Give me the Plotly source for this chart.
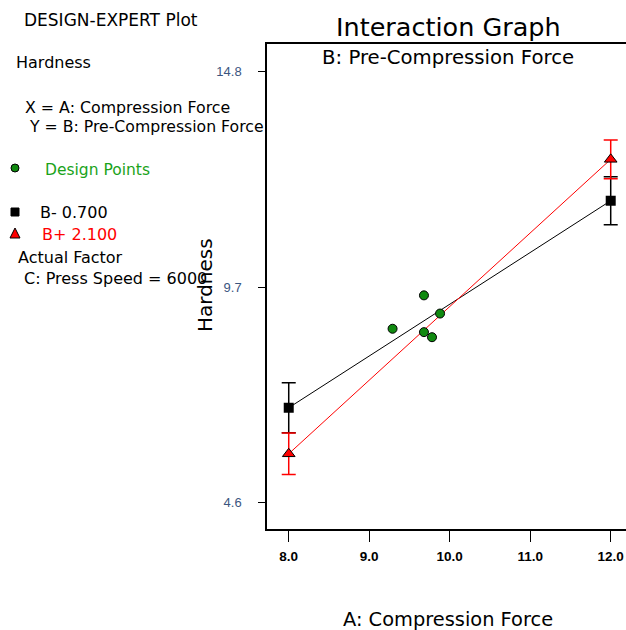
"""
Interaction Graph (Design-Expert style): Hardness vs Compression Force
"""
import plotly.graph_objects as go

# dados
compression_levels = [8.0, 12.0]
hardness_b_low = [6.85, 11.75]      # B- 0.700
err_b_low = [0.59, 0.57]
hardness_b_high = [5.76, 12.73]     # B+ 2.100
err_b_high = [0.49, 0.46]

design_x = [9.29, 9.68, 9.68, 9.78, 9.88]
design_y = [8.72, 9.51, 8.64, 8.52, 9.08]

x_ticks = [8.0, 9.0, 10.0, 11.0, 12.0]
y_ticks = [4.6, 9.7, 14.8]

FONT = "DejaVu Sans"
W, H = 626, 630
L, R, T, B = 267, 626, 44, 529


def px(x):
    return (x - L) / (R - L)


def py(y):
    return (B - y) / (B - T)


fig = go.Figure()

# linha B-
fig.add_trace(go.Scatter(
    x=compression_levels, y=hardness_b_low, mode='lines+markers',
    line=dict(color='black', width=1),
    marker=dict(symbol='square', size=10, color='black'),
    error_y=dict(type='data', array=err_b_low, color='black', thickness=1.5, width=7),
    showlegend=False
))

# linha B+
fig.add_trace(go.Scatter(
    x=compression_levels, y=hardness_b_high, mode='lines+markers',
    line=dict(color='#ff0000', width=1),
    marker=dict(symbol='triangle-up', size=11, color='#ff0000',
                line=dict(color='black', width=1)),
    error_y=dict(type='data', array=err_b_high, color='#ff0000', thickness=1.5, width=7),
    showlegend=False
))

# pontos do planejamento
fig.add_trace(go.Scatter(
    x=design_x, y=design_y, mode='markers',
    marker=dict(symbol='circle', size=9, color='#108a10',
                line=dict(color='black', width=1)),
    showlegend=False
))

# textos à esquerda
side_texts = [
    ("DESIGN-EXPERT Plot", 22, 20, 'black', 17),
    ("Hardness", 14, 63, 'black', 16),
    ("X = A: Compression Force", 23, 107, 'black', 15.8),
    ("Y = B: Pre-Compression Force", 27, 127, 'black', 15.7),
    ("Design Points", 43, 170, '#1aa31a', 15.5),
    ("B- 0.700", 38, 212, 'black', 16),
    ("B+ 2.100", 40, 234, '#ff0000', 16),
    ("Actual Factor", 16, 257, 'black', 16),
    ("C: Press Speed = 6000", 22, 278, 'black', 16),
]
annotations = []
for text, x0, y0, color, size in side_texts:
    annotations.append(dict(
        text=text, x=px(x0), y=py(y0), xref='paper', yref='paper',
        xanchor='left', yanchor='middle', showarrow=False,
        font=dict(family=FONT, size=size, color=color)
    ))

annotations += [
    dict(text="Interaction Graph", x=px(448), y=py(27), xref='paper', yref='paper',
         xanchor='center', yanchor='middle', showarrow=False,
         font=dict(family=FONT, size=25.5, color='black')),
    dict(text="B: Pre-Compression Force", x=px(448), y=py(57), xref='paper', yref='paper',
         xanchor='center', yanchor='middle', showarrow=False,
         font=dict(family=FONT, size=19.7, color='black')),
    dict(text="A: Compression Force", x=px(448), y=py(619), xref='paper', yref='paper',
         xanchor='center', yanchor='middle', showarrow=False,
         font=dict(family=FONT, size=19.4, color='black')),
    dict(text="Hardness", x=px(205), y=py(285), xref='paper', yref='paper',
         xanchor='center', yanchor='middle', showarrow=False, textangle=-90,
         font=dict(family=FONT, size=20, color='black')),
]

# símbolos da legenda
shapes = [
    dict(type='circle', xref='paper', yref='paper',
         x0=px(11), x1=px(19), y0=py(164), y1=py(172),
         fillcolor='#108a10', line=dict(color='black', width=1)),
    dict(type='rect', xref='paper', yref='paper',
         x0=px(11), x1=px(19), y0=py(208), y1=py(216),
         fillcolor='black', line=dict(color='black', width=1)),
    dict(type='path', xref='paper', yref='paper',
         path=f"M {px(15)} {py(228)} L {px(10)} {py(238)} L {px(20)} {py(238)} Z",
         fillcolor='#ff0000', line=dict(color='black', width=1)),
]

fig.update_layout(
    width=W, height=H,
    margin=dict(l=L, r=W - R, t=T, b=H - B),
    plot_bgcolor='white', paper_bgcolor='white',
    annotations=annotations, shapes=shapes,
    xaxis=dict(
        range=[7.73, 12.19], tickvals=x_ticks, tickformat='.1f',
        ticks='outside', ticklen=11, tickcolor='black', ticklabelstandoff=3,
        showline=True, linecolor='black', linewidth=1.5, mirror=True,
        showgrid=False, zeroline=False,
        tickfont=dict(family="Liberation Sans", size=13.5, color='black', weight='bold')
    ),
    yaxis=dict(
        range=[3.98, 15.46], tickvals=y_ticks, tickformat='.1f',
        ticks='outside', ticklen=7, tickcolor='black', ticklabelstandoff=14,
        showline=True, linecolor='black', linewidth=1.5,
        showgrid=False, zeroline=False,
        tickfont=dict(family="Liberation Sans", size=13, color='#3b557f')
    ),
)

# sem margem no <body> para a figura ocupar a janela toda
fig.write_html("out.html", config={'displayModeBar': False},
               post_script="document.body.style.margin='0';document.body.style.overflow='hidden';")
